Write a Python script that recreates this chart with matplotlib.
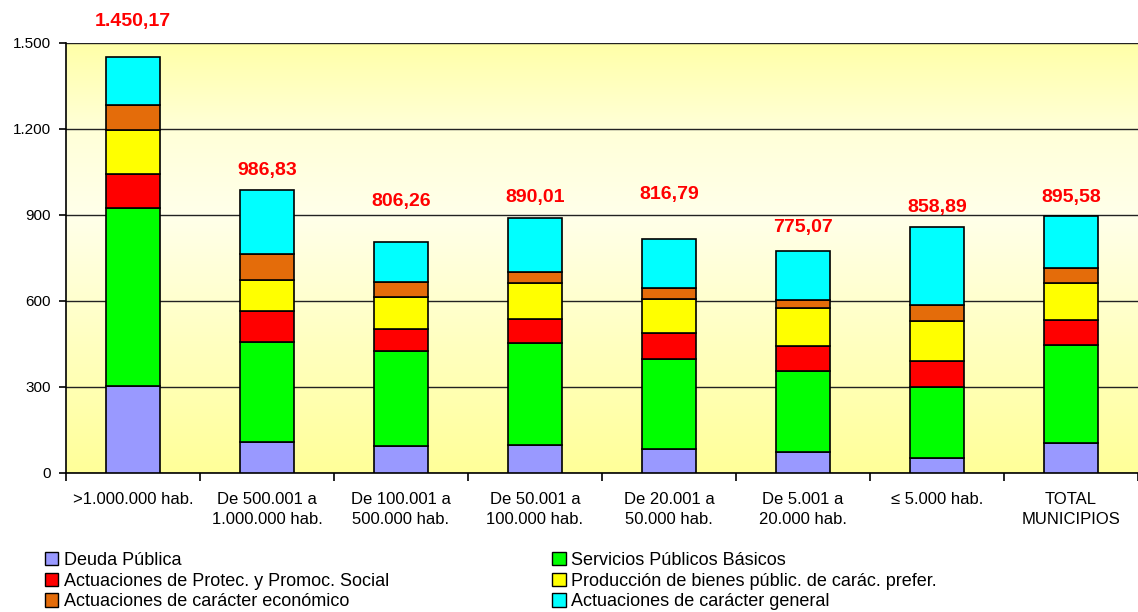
import numpy as np
import matplotlib.pyplot as plt
from matplotlib.colors import LinearSegmentedColormap
from matplotlib.patches import Patch

plt.rcParams['font.family'] = ['Liberation Sans', 'DejaVu Sans']

categories = [">1.000.000 hab.", "De 500.001 a\n1.000.000 hab.", "De 100.001 a\n500.000 hab.",
              "De 50.001 a\n100.000 hab.", "De 20.001 a\n50.000 hab.", "De 5.001 a\n20.000 hab.",
              "\u2264 5.000 hab.", "TOTAL\nMUNICIPIOS"]

deuda = [305, 107, 93, 96, 82, 72, 53, 106]
servicios = [621, 350, 331, 357, 317, 284, 248, 342]
protec = [118, 109, 78, 83, 89, 88, 88, 87]
produccion = [151, 106, 113, 127, 120, 130, 142, 128]
economico = [89, 93, 52, 39, 36, 31, 54, 53]
general = [166, 222, 139, 188, 173, 170, 274, 180]
totals = [1450.17, 986.83, 806.26, 890.01, 816.79, 775.07, 858.89, 895.58]

series_names = ["Deuda Pública", "Servicios Públicos Básicos",
                "Actuaciones de Protec. y Promoc. Social", "Producción de bienes públic. de carác. prefer.",
                "Actuaciones de carácter económico", "Actuaciones de carácter general"]
series = [deuda, servicios, protec, produccion, economico, general]
colors = ['#9999FF', '#00FF00', '#FF0000', '#FFFF00', '#E46C0A', '#00FFFF']

# label heights above the bar tops (as placed in the original)
label_dy = [125, 70, 141, 70, 154, 80, 69, 67]


def fmt_es(v):
    s = f"{v:,.2f}"
    return s.replace(",", "X").replace(".", ",").replace("X", ".")


fig = plt.figure(figsize=(11.38, 6.12), dpi=100)
ax = fig.add_axes([66 / 1138, 139 / 612, 1072 / 1138, 430 / 612])

# background gradient
cmap = LinearSegmentedColormap.from_list('bg', [(0, '#FFFF99'), (0.3, '#FFFFC0'),
                                                (0.6, '#FFFFEA'), (0.8, '#FFFFD8'), (1, '#FFFFA8')])
grad = np.linspace(0, 1, 256).reshape(-1, 1)
ax.imshow(grad, aspect='auto', cmap=cmap, origin='lower', extent=[-0.5, 7.5, 0, 1500], zorder=0)

x = np.arange(len(categories))
bottom = np.zeros(len(categories))
for vals, col in zip(series, colors):
    ax.bar(x, vals, 0.4, bottom=bottom, color=col, edgecolor='black', linewidth=1.2, zorder=3)
    bottom += np.array(vals)

for xi, t, dy in zip(x, totals, label_dy):
    ax.text(xi, t + dy, fmt_es(t), ha='center', va='center', color='#FF0000',
            fontsize=14, fontweight='bold', clip_on=False)

ax.set_xlim(-0.5, 7.5)
ax.set_ylim(0, 1500)
ax.set_yticks(range(0, 1501, 300))
ax.set_yticklabels([f"{v:,}".replace(",", ".") for v in range(0, 1501, 300)], fontsize=11)
ax.yaxis.grid(True, color='#222222', linewidth=1.0, zorder=1)
ax.set_axisbelow(True)

ax.set_xticks(x)
ax.set_xticklabels(categories, fontsize=12, linespacing=1.35)
ax.tick_params(axis='x', length=0, pad=14)
ax.set_xticks(np.arange(-0.5, 8, 1), minor=True)
ax.tick_params(axis='x', which='minor', length=6, width=1.2, direction='out')
ax.tick_params(axis='y', length=5, width=1.2, direction='out', pad=6)

for side in ['top', 'right']:
    ax.spines[side].set_visible(False)
ax.spines['left'].set_linewidth(1.2)
ax.spines['bottom'].set_linewidth(1.2)

order = [0, 2, 4, 1, 3, 5]
handles = [Patch(facecolor=colors[i], edgecolor='black', linewidth=1.0) for i in order]
labels = [series_names[i] for i in order]
fig.legend(handles, labels, ncol=2, loc='lower left', bbox_to_anchor=(43 / 1138, 0.0),
           frameon=False, fontsize=13, handlelength=0.75, handleheight=0.75, handletextpad=0.3,
           columnspacing=9.05, labelspacing=0.2, borderaxespad=0.0, borderpad=0.1)

fig.savefig('out.png', dpi=100)
